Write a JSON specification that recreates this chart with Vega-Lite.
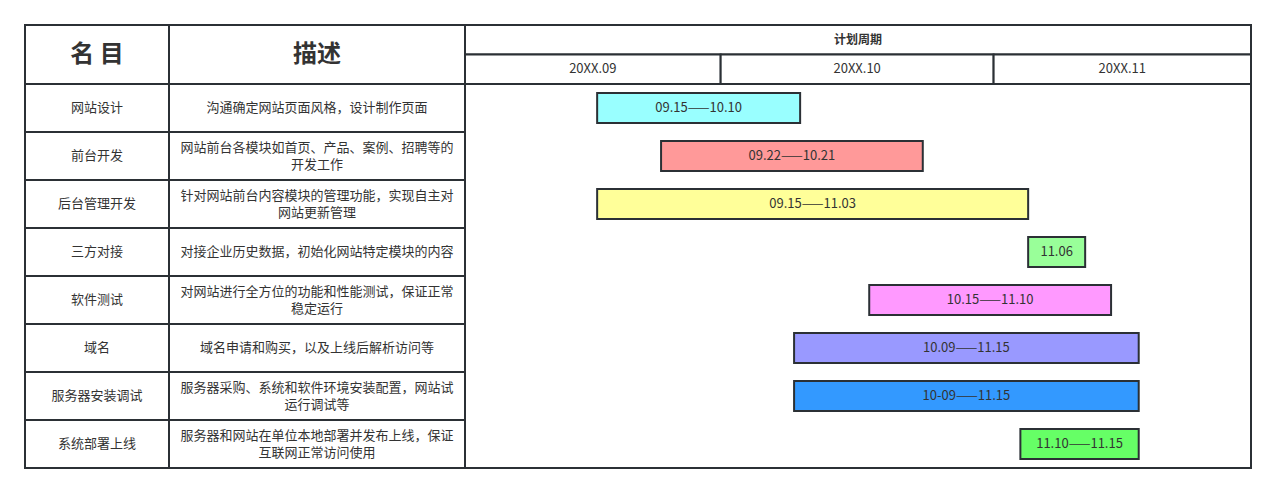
{
  "$schema": "https://vega.github.io/schema/vega-lite/v6.json",
  "padding": {"left": 23, "top": 23, "right": 0, "bottom": 0},
  "background": "white",
  "bounds": "flush",
  "spacing": 0,
  "config": {
    "view": {"stroke": "#2b3035", "strokeWidth": 2},
    "concat": {"spacing": 0},
    "font": "Noto Sans CJK SC",
    "text": {"font": "Noto Sans CJK SC", "color": "#333333", "fontSize": 13}
  },
  "datasets": {
    "tasks": [
      {"task": "网站设计", "desc": "沟通确定网站页面风格，设计制作页面", "start": 15.3, "end": 38.8, "label": "09.15——10.10"},
      {"task": "前台开发", "desc": "网站前台各模块如首页、产品、案例、招聘等的\n开发工作", "start": 22.7, "end": 53.0, "label": "09.22——10.21"},
      {"task": "后台管理开发", "desc": "针对网站前台内容模块的管理功能，实现自主对\n网站更新管理", "start": 15.3, "end": 65.2, "label": "09.15——11.03"},
      {"task": "三方对接", "desc": "对接企业历史数据，初始化网站特定模块的内容", "start": 65.2, "end": 71.8, "label": "11.06"},
      {"task": "软件测试", "desc": "对网站进行全方位的功能和性能测试，保证正常\n稳定运行", "start": 46.8, "end": 74.8, "label": "10.15——11.10"},
      {"task": "域名", "desc": "域名申请和购买，以及上线后解析访问等", "start": 38.1, "end": 78.0, "label": "10.09——11.15"},
      {"task": "服务器安装调试", "desc": "服务器采购、系统和软件环境安装配置，网站试\n运行调试等", "start": 38.1, "end": 78.0, "label": "10-09——11.15"},
      {"task": "系统部署上线", "desc": "服务器和网站在单位本地部署并发布上线，保证\n互联网正常访问使用", "start": 64.3, "end": 78.0, "label": "11.10——11.15"}
    ],
    "months": [
      {"row": "months", "month": "20XX.09", "start": 0, "end": 29.6},
      {"row": "months", "month": "20XX.10", "start": 29.6, "end": 61.2},
      {"row": "months", "month": "20XX.11", "start": 61.2, "end": 91}
    ]
  },
  "hconcat": [
    {
      "width": 144, "height": 443,
      "resolve": {"scale": {"y": "independent"}},
      "layer": [
        {
          "data": {"values": [{"row": "h", "t": "名 目"}]},
          "encoding": {"y": {"field": "row", "type": "nominal", "scale": {"range": [0, 59], "paddingInner": 0, "paddingOuter": 0}, "axis": null}},
          "layer": [
            {"mark": {"type": "rect", "fill": "white", "stroke": "#2b3035", "strokeWidth": 2}},
            {"mark": {"type": "text", "fontSize": 24, "fontWeight": "bold", "color": "#333333"}, "encoding": {"text": {"field": "t"}}}
          ]
        },
        {
          "data": {"name": "tasks"},
          "encoding": {"y": {"field": "task", "type": "nominal", "sort": null, "scale": {"range": [59, 443], "paddingInner": 0, "paddingOuter": 0}, "axis": null}},
          "layer": [
            {"mark": {"type": "rect", "fill": "white", "stroke": "#2b3035", "strokeWidth": 2}},
            {"mark": {"type": "text", "fontSize": 13}, "encoding": {"text": {"field": "task"}}}
          ]
        }
      ]
    },
    {
      "width": 296, "height": 443,
      "resolve": {"scale": {"y": "independent"}},
      "layer": [
        {
          "data": {"values": [{"row": "h", "t": "描述"}]},
          "encoding": {"y": {"field": "row", "type": "nominal", "scale": {"range": [0, 59], "paddingInner": 0, "paddingOuter": 0}, "axis": null}},
          "layer": [
            {"mark": {"type": "rect", "fill": "white", "stroke": "#2b3035", "strokeWidth": 2}},
            {"mark": {"type": "text", "fontSize": 24, "fontWeight": "bold", "color": "#333333"}, "encoding": {"text": {"field": "t"}}}
          ]
        },
        {
          "data": {"name": "tasks"},
          "encoding": {"y": {"field": "task", "type": "nominal", "sort": null, "scale": {"range": [59, 443], "paddingInner": 0, "paddingOuter": 0}, "axis": null}},
          "layer": [
            {"mark": {"type": "rect", "fill": "white", "stroke": "#2b3035", "strokeWidth": 2}},
            {
              "transform": [{"filter": "indexof(datum.desc, '\\n') < 0"}],
              "mark": {"type": "text", "fontSize": 13},
              "encoding": {"text": {"field": "desc"}}
            },
            {
              "transform": [{"filter": "indexof(datum.desc, '\\n') >= 0"}],
              "mark": {"type": "text", "fontSize": 13, "lineBreak": "\n", "lineHeight": 17, "dy": -8.5},
              "encoding": {"text": {"field": "desc"}}
            }
          ]
        }
      ]
    },
    {
      "width": 786, "height": 443,
      "resolve": {"scale": {"y": "independent"}},
      "layer": [
        {
          "encoding": {"y": {"field": "row", "type": "nominal", "scale": {"domain": ["period", "months"], "range": [0, 59], "paddingInner": 0, "paddingOuter": 0}, "axis": null}},
          "layer": [
            {
              "data": {"values": [{"row": "period", "t": "计划周期"}]},
              "mark": {"type": "rect", "fill": "white", "stroke": "#2b3035", "strokeWidth": 2}
            },
            {
              "data": {"values": [{"row": "period", "t": "计划周期"}]},
              "mark": {"type": "text", "fontSize": 12, "fontWeight": "bold"},
              "encoding": {"text": {"field": "t"}}
            },
            {
              "data": {"name": "months"},
              "mark": {"type": "rect", "fill": "white", "stroke": "#2b3035", "strokeWidth": 2},
              "encoding": {
                "x": {"field": "start", "type": "quantitative", "scale": {"domain": [0, 91], "nice": false, "zero": false}, "axis": null},
                "x2": {"field": "end"}
              }
            },
            {
              "data": {"name": "months"},
              "transform": [{"calculate": "(datum.start + datum.end) / 2", "as": "mid"}],
              "mark": {"type": "text", "fontSize": 13},
              "encoding": {
                "x": {"field": "mid", "type": "quantitative", "axis": null},
                "text": {"field": "month"}
              }
            }
          ]
        },
        {
          "data": {"name": "tasks"},
          "encoding": {"y": {"field": "task", "type": "nominal", "sort": null, "scale": {"range": [59, 443], "paddingInner": 0.375, "paddingOuter": 0.1875}, "axis": null}},
          "layer": [
            {
              "mark": {"type": "bar", "stroke": "#2b3035", "strokeWidth": 2, "cornerRadius": 0},
              "encoding": {
                "x": {"field": "start", "type": "quantitative", "axis": null},
                "x2": {"field": "end"},
                "color": {
                  "field": "task", "type": "nominal", "legend": null,
                  "scale": {
                    "domain": ["网站设计", "前台开发", "后台管理开发", "三方对接", "软件测试", "域名", "服务器安装调试", "系统部署上线"],
                    "range": ["#99FFFF", "#FF9999", "#FFFF99", "#99FF99", "#FF99FF", "#9999FF", "#3399FF", "#66FF66"]
                  }
                }
              }
            },
            {
              "transform": [{"calculate": "(datum.start + datum.end) / 2", "as": "mid"}],
              "mark": {"type": "text", "fontSize": 13},
              "encoding": {
                "x": {"field": "mid", "type": "quantitative", "axis": null},
                "text": {"field": "label"}
              }
            }
          ]
        }
      ]
    }
  ]
}
